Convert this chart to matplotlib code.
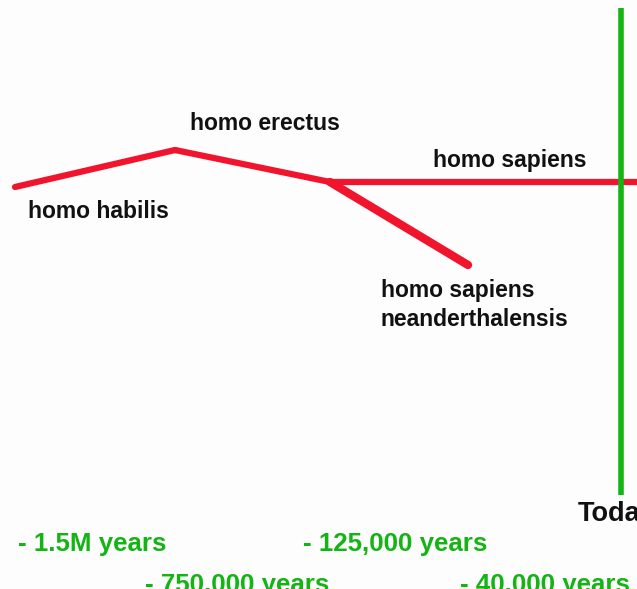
import matplotlib
matplotlib.use("Agg")
import matplotlib.pyplot as plt

# Lineage branches (x, y in picture coordinates)
habilis_x = [15, 175]
habilis_y = [187, 150]
erectus_x = [175, 330]
erectus_y = [150, 182]
sapiens_x = [330, 637]
sapiens_y = [182, 182]
neander_x = [330, 468]
neander_y = [182, 265]
today_x = [621, 621]
today_y = [8, 495]

species_labels = ["homo habilis", "homo erectus", "homo sapiens", "homo sapiens\nneanderthalensis"]
species_pos = [(28, 211), (190, 124), (433, 161), (381, 305)]

time_labels = ["- 1.5M years", "- 125,000 years", "- 750,000 years", "- 40,000 years"]
time_pos = [(18, 544), (303, 544), (145, 585), (460, 585)]

RED = "#f0142d"
GREEN = "#14b414"

fig = plt.figure(figsize=(6.37, 5.89), dpi=100, facecolor="#fdfdfd")
ax = fig.add_axes([0, 0, 1, 1])
ax.set_xlim(0, 637)
ax.set_ylim(589, 0)
ax.axis("off")
ax.set_facecolor("#fdfdfd")

for xs, ys in [(habilis_x, habilis_y), (erectus_x, erectus_y), (sapiens_x, sapiens_y)]:
    ax.plot(xs, ys, color=RED, lw=4.5, solid_capstyle="round", solid_joinstyle="round")
ax.plot(neander_x, neander_y, color=RED, lw=6, solid_capstyle="round")
ax.plot(today_x, today_y, color=GREEN, lw=4, solid_capstyle="butt")

font = dict(family="Liberation Sans", fontweight="bold")
for lab, (x, y) in zip(species_labels, species_pos):
    ax.text(x, y, lab, ha="left", va="center", fontsize=16.5, color="#111111",
            linespacing=1.3, **font)

ax.text(578, 514, "Today", ha="left", va="center", fontsize=19.5, color="#111111", **font)

for lab, (x, y) in zip(time_labels, time_pos):
    ax.text(x, y, lab, ha="left", va="center", fontsize=18.6, color=GREEN, **font)

fig.savefig("out.png", dpi=100, facecolor=fig.get_facecolor())
